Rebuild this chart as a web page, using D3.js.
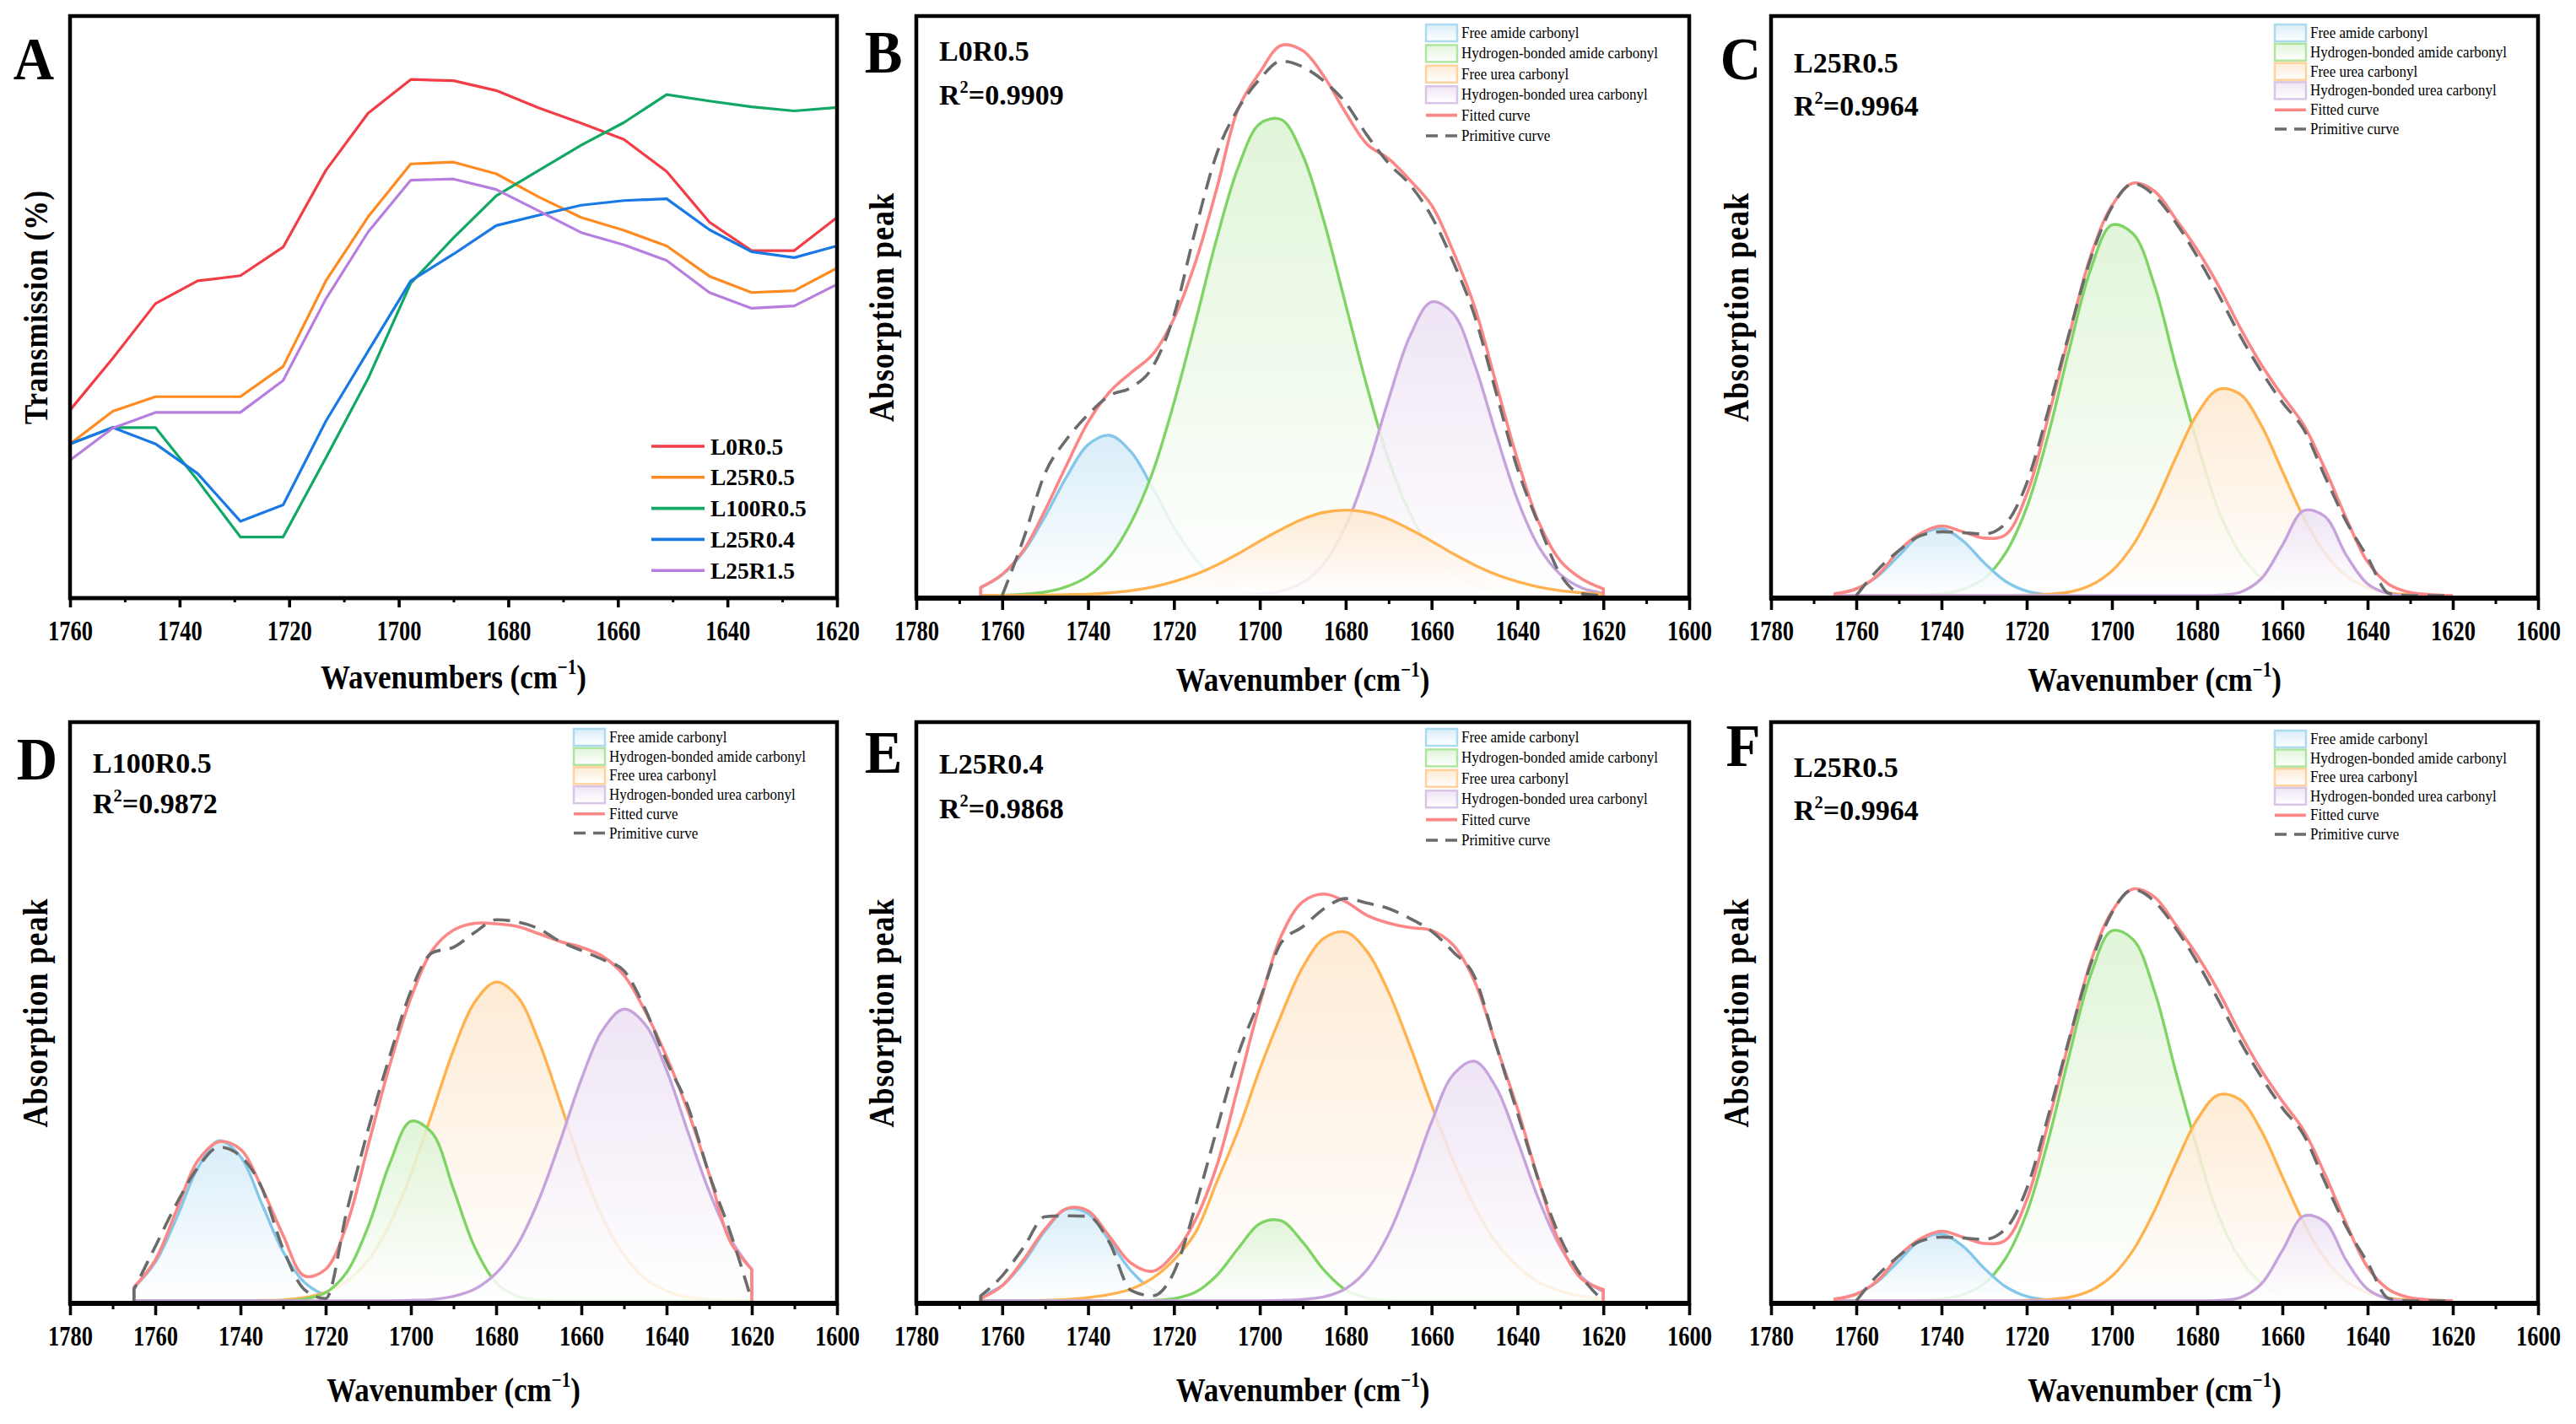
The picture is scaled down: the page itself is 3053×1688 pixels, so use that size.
<!DOCTYPE html>
<html>
<head>
<meta charset="utf-8">
<title>FTIR carbonyl region and peak fitting</title>
<script src="https://cdn.jsdelivr.net/npm/d3@7/dist/d3.min.js"></script>
<style>
html,body{margin:0;padding:0;background:#fff;}
svg{display:block;}
</style>
</head>
<body>
<svg id="chart" width="3053" height="1688" xmlns="http://www.w3.org/2000/svg"></svg>
<script>
// ================= DATA =================
// Panel A : transmission spectra (arbitrary 0-100 scale)
const transWavenumbers = [1760,1752.2,1744.4,1736.7,1728.9,1721.1,1713.3,1705.6,1697.8,1690,1682.2,1674.4,1666.7,1658.9,1651.1,1643.3,1635.6,1627.8,1620];
const transSeriesNames = ["L0R0.5","L25R0.5","L100R0.5","L25R0.4","L25R1.5"];
const transL0R05   = [32.3,41.2,50.6,54.5,55.4,60.3,73.5,83.3,89.1,88.9,87.2,84.2,81.6,78.8,73.3,64.6,59.7,59.7,65.4];
const transL25R05  = [26.5,32.1,34.6,34.6,34.6,39.8,54.5,65.5,74.6,74.9,72.9,68.9,65.4,63.2,60.5,55.3,52.5,52.8,56.7];
const transL100R05 = [26.5,29.3,29.3,20.2,10.5,10.5,24.1,37.7,54.1,61.9,69.1,73.5,77.8,81.7,86.5,85.4,84.4,83.7,84.3];
const transL25R04  = [26.5,29.3,26.5,21.4,13.2,16.0,30.4,42.4,54.5,59.1,64.0,65.8,67.5,68.3,68.6,63.3,59.5,58.5,60.5];
const transL25R15  = [23.7,29.2,31.9,31.9,31.9,37.4,51.4,62.9,71.8,72.0,70.2,66.5,62.8,60.7,58.0,52.5,49.8,50.2,53.9];
const transTicksMajor = [1760,1740,1720,1700,1680,1660,1640,1620];
const transTicksMinor = [1750,1730,1710,1690,1670,1650,1630];

// Panels B-F : peak fitting (absorbance, arbitrary units)
const fitWavenumbers = [1765,1760,1755,1750,1745,1740,1735,1730,1725,1720,1715,1710,1705,1700,1695,1690,1685,1680,1675,1670,1665,1660,1655,1650,1645,1640,1635,1630,1625,1620];
const componentNames = ["Free amide carbonyl","Hydrogen-bonded amide carbonyl","Free urea carbonyl","Hydrogen-bonded urea carbonyl"];
const fitLineNames = ["Fitted curve","Primitive curve"];
const fitTicksMajor = [1780,1760,1740,1720,1700,1680,1660,1640,1620,1600];
const fitTicksMinor = [1770,1750,1730,1710,1690,1670,1650,1630,1610];

// L0R0.5
const l0r05FreeAmide = [18,46,98,176,264,335,356,319,240,152,81,36,13,4,1,0,0,0,0,0,0,0,0,0,0,0,0,0,0,0];
const l0r05HbAmide   = [0,1,3,8,20,43,86,162,273,428,607,794,952,1048,1057,978,829,646,463,301,182,99,50,24,10,4,1,0,0,0];
const l0r05FreeUrea  = [0,0,0,1,2,3,6,11,19,31,47,68,93,121,147,170,185,190,185,170,147,121,93,68,47,31,19,11,6,3];
const l0r05HbUrea    = [0,0,0,0,0,0,0,0,0,0,0,0,1,3,10,29,72,154,281,436,577,652,627,514,359,213,108,47,17,5];
const l0r05Fitted    = [18,47,101,190,290,385,452,495,535,615,740,905,1082,1162,1222,1210,1152,1072,1002,970,922,867,765,642,472,302,162,77,37,15];
const l0r05Primitive = [null,0,127,272,347,402,444,462,507,622,812,982,1082,1147,1187,1174,1142,1094,1022,960,912,842,742,622,452,282,157,47,4,0];

// L25R0.5
const l25r05FreeAmide = [4,15,43,89,135,149,122,73,32,10,2,0,0,0,0,0,0,0,0,0,0,0,0,0,0,0,0,0,0,0];
const l25r05HbAmide   = [0,0,0,0,1,4,14,38,94,196,356,548,726,825,805,690,510,340,190,95,40,14,4,1,0,0,0,0,0,0];
const l25r05FreeUrea  = [0,0,0,0,0,0,0,0,0,1,3,8,23,55,113,201,307,404,459,449,380,277,174,94,44,18,6,2,1,0];
const l25r05HbUrea    = [0,0,0,0,0,0,0,0,0,0,0,0,0,0,0,0,0,0,1,7,37,112,189,176,90,26,4,0,0,0];
const l25r05Fitted    = [4,15,45,100,138,155,142,128,135,225,395,580,755,868,918,900,838,770,690,598,515,445,380,282,172,75,25,7,2,0];
const l25r05Primitive = [null,0,57,100,133,142,140,137,160,250,410,585,750,865,917,890,830,755,670,580,500,430,370,265,165,85,5,0,0,0];

// L100R0.5
const l100r05FreeAmide = [29,85,183,294,354,319,215,109,41,12,2,0,0,0,0,0,0,0,0,0,0,0,0,0,0,0,0,0,0,0];
const l100r05HbAmide   = [0,0,0,0,0,0,0,0,4,18,64,165,303,397,371,247,118,40,10,2,0,0,0,0,0,0,0,0,0,0];
const l100r05FreeUrea  = [0,0,0,0,0,0,1,2,7,19,44,90,169,280,416,555,661,705,673,574,439,300,183,101,49,22,8,3,1,0];
const l100r05HbUrea    = [0,0,0,0,0,0,0,0,0,0,0,0,0,1,3,10,26,61,124,223,352,490,599,645,611,510,374,242,137,69];
const l100r05Fitted    = [30,90,200,310,352,335,250,145,55,70,170,345,520,670,775,820,835,834,828,812,795,782,762,720,640,540,420,280,130,70];
const l100r05Primitive = [25,120,215,295,340,320,250,115,25,5,200,380,540,685,770,782,815,843,838,823,795,775,755,730,645,530,430,280,150,0];

// L25R0.4
const l25r04FreeAmide = [10,34,85,154,202,192,132,66,24,6,1,0,0,0,0,0,0,0,0,0,0,0,0,0,0,0,0,0,0,0];
const l25r04HbAmide   = [0,0,0,0,0,0,0,0,1,5,19,56,116,170,176,129,67,24,6,1,0,0,0,0,0,0,0,0,0,0];
const l25r04FreeUrea  = [0,0,0,1,3,7,14,26,50,90,150,262,376,510,629,734,798,811,768,679,560,431,309,207,129,76,41,21,10,4];
const l25r04HbUrea    = [0,0,0,0,0,0,0,0,0,0,0,0,0,0,1,3,9,27,69,147,262,393,497,527,470,352,222,118,52,20];
const l25r04Fitted    = [5,33,91,158,203,198,141,83,65,103,178,298,473,653,803,878,895,878,848,831,821,815,783,703,563,423,263,123,48,25];
const l25r04Primitive = [11,55,118,185,187,186,128,23,11,63,208,378,543,663,788,823,863,885,875,863,841,813,768,713,563,413,263,138,53,0];

const sampleNames = ["L0R0.5","L25R0.5","L100R0.5","L25R0.4"];
const rSquared    = ["0.9909","0.9964","0.9872","0.9868"];

// ================= TABLES BUILT FROM DATA =================
const transSeries = [transL0R05,transL25R05,transL100R05,transL25R04,transL25R15];
const fitSamples = [
  {name:sampleNames[0], r2:rSquared[0], comps:[l0r05FreeAmide,l0r05HbAmide,l0r05FreeUrea,l0r05HbUrea], fitted:l0r05Fitted, primitive:l0r05Primitive},
  {name:sampleNames[1], r2:rSquared[1], comps:[l25r05FreeAmide,l25r05HbAmide,l25r05FreeUrea,l25r05HbUrea], fitted:l25r05Fitted, primitive:l25r05Primitive},
  {name:sampleNames[2], r2:rSquared[2], comps:[l100r05FreeAmide,l100r05HbAmide,l100r05FreeUrea,l100r05HbUrea], fitted:l100r05Fitted, primitive:l100r05Primitive},
  {name:sampleNames[3], r2:rSquared[3], comps:[l25r04FreeAmide,l25r04HbAmide,l25r04FreeUrea,l25r04HbUrea], fitted:l25r04Fitted, primitive:l25r04Primitive}
];

// ================= STYLE / LAYOUT =================
const FONT = "'Liberation Serif','Times New Roman',Times,serif";
const transColors = ["#f23c46","#ff8a1f","#10a864","#1878e4","#b77ee0"];
const compLine   = ["#84c7e8","#80d465","#ffb24e","#c7a3dc"];
const compTint   = ["#d2eaf7","#dbf3d2","#fde7cd","#ece0f3"];
const compBorder = ["#acdaf0","#b0e5a0","#ffd29c","#dac5e7"];
const fittedColor = "#fb8787";
const primColor = "#6b6b6b";

const layout = {
  A:{x0:83,  x1:992,  y0:19,  y1:709,  letter:[-43,75]},
  B:{x0:1086,x1:2002, y0:19,  y1:709,  letter:[-39,67], lab:[53,105], leg:[20,24.4], order:[0,1,3,2], sample:0, ymax:1287, tt:110},
  C:{x0:2099,x1:3008, y0:19,  y1:709,  letter:[-36,75], lab:[67,118], leg:[20,22.8], order:[1,0,2,3], sample:1, ymax:1290, tt:110},
  D:{x0:83,  x1:992,  y0:856, y1:1545, letter:[-39,68], lab:[60,108], leg:[18,22.7], order:[0,2,1,3], sample:2, ymax:1280, tt:116},
  E:{x0:1086,x1:2002, y0:856, y1:1545, letter:[-39,60], lab:[61,114], leg:[18,24.4], order:[0,2,1,3], sample:3, ymax:1273, tt:116},
  F:{x0:2099,x1:3008, y0:856, y1:1545, letter:[-33,52], lab:[65,116], leg:[20,22.6], order:[1,0,2,3], sample:1, ymax:1290, tt:116}
};

const svg = d3.select("#chart");
const defs = svg.append("defs");
compTint.forEach((c,i)=>{
  const lg = defs.append("linearGradient").attr("id","cg"+i)
    .attr("x1",0).attr("y1",0).attr("x2",0).attr("y2",1);
  lg.append("stop").attr("offset","0").attr("stop-color",c).attr("stop-opacity",0.85);
  lg.append("stop").attr("offset","1").attr("stop-color","#ffffff").attr("stop-opacity",0.85);
});

function addText(parent, x, y, o){
  let tr = `translate(${x},${y})`;
  if (o.rotate) tr += ` rotate(${o.rotate})`;
  if (o.sy) tr += ` scale(1,${o.sy})`;
  const t = parent.append("text").attr("transform",tr)
    .attr("font-family",FONT).attr("font-size",o.size)
    .attr("font-weight",o.bold?"bold":"normal")
    .attr("text-anchor",o.anchor||"start").attr("fill","#000");
  if (o.ls) t.attr("letter-spacing",o.ls);
  return t;
}
function supText(t, base, sup, after, size){
  t.append("tspan").text(base);
  t.append("tspan").attr("font-size",size*0.6).attr("dy",-size*0.42).text(sup);
  t.append("tspan").attr("dy",size*0.42).text(after);
}
function edgePath(pts, x, y, curve){
  const def = pts.filter(p=>p[1]!=null);
  const s = d3.line().x(d=>x(d[0])).y(d=>y(d[1])).curve(curve)(def);
  const f = def[0], l = def[def.length-1];
  return `M${x(f[0])},${y(0)}L` + s.slice(1) + `L${x(l[0])},${y(0)}`;
}
function drawAxis(g, P, x, major, minor, majorLen, minorLen, frameW, bottomW){
  g.append("rect").attr("x",P.x0).attr("y",P.y0).attr("width",P.x1-P.x0).attr("height",P.y1-P.y0)
    .attr("fill","none").attr("stroke","#000").attr("stroke-width",frameW);
  const ax = g.append("g").attr("transform",`translate(0,${P.y1})`);
  ax.append("g").call(d3.axisBottom(x).tickValues(minor).tickSize(minorLen).tickFormat(""))
    .call(s=>s.select(".domain").remove())
    .call(s=>s.selectAll(".tick line").attr("stroke","#000").attr("stroke-width",3));
  const mj = ax.append("g").call(d3.axisBottom(x).tickValues(major).tickSize(majorLen).tickFormat(d3.format("d")))
    .call(s=>s.select(".domain").remove());
  mj.selectAll(".tick line").attr("stroke","#000").attr("stroke-width",3.6);
  mj.selectAll(".tick text").attr("y",null).attr("dy",null)
    .attr("transform","translate(0,50) scale(1,1.25)")
    .attr("font-family",FONT).attr("font-size",26.5).attr("font-weight","bold").attr("fill","#000");
  mj.attr("font-size",null).attr("font-family",null);
  g.append("line").attr("x1",P.x0-2).attr("x2",P.x1+2).attr("y1",P.y1).attr("y2",P.y1)
    .attr("stroke","#000").attr("stroke-width",bottomW);
}

// ================= PANEL A =================
(function(){
  const P = layout.A;
  const g = svg.append("g");
  const x = d3.scaleLinear().domain([1760,1620]).range([P.x0,P.x1]);
  const y = d3.scaleLinear().domain([0,100]).range([P.y1,P.y0]);
  const line = d3.line().x((d,i)=>x(transWavenumbers[i])).y(d=>y(d));
  transSeries.forEach((s,k)=>{
    g.append("path").attr("d",line(s)).attr("fill","none")
      .attr("stroke",transColors[k]).attr("stroke-width",3.2).attr("stroke-linejoin","round");
  });
  drawAxis(g,P,x,transTicksMajor,transTicksMinor,11,5,4.5,4.5);
  // legend
  transSeriesNames.forEach((n,i)=>{
    const cy = P.y0 + 510 + i*36.8;
    g.append("line").attr("x1",P.x1-220).attr("x2",P.x1-157).attr("y1",cy).attr("y2",cy)
      .attr("stroke",transColors[i]).attr("stroke-width",3.6);
    addText(g,P.x1-150,cy+9.5,{size:27.5,bold:true}).text(n);
  });
  // titles
  const tx = addText(g,(P.x0+P.x1)/2,P.y1+107,{size:35,bold:true,anchor:"middle",sy:1.15});
  supText(tx,"Wavenumbers (cm","\u22121",")",35);
  addText(g,P.x0-27,(P.y0+P.y1)/2,{size:35,bold:true,anchor:"middle",rotate:-90,sy:1.15,ls:0.7}).text("Transmission (%)");
  addText(g,P.x0+P.letter[0],P.y0+P.letter[1],{size:67,bold:true,anchor:"middle",sy:1.08}).text("A");
})();

// ================= PANELS B-F =================
["B","C","D","E","F"].forEach(key=>{
  const P = layout[key];
  const S = fitSamples[P.sample];
  const g = svg.append("g");
  const x = d3.scaleLinear().domain([1780,1600]).range([P.x0,P.x1]);
  const y = d3.scaleLinear().domain([0,P.ymax]).range([P.y1-3,P.y0]);
  const smooth = d3.curveCatmullRom.alpha(0.5);
  const area = d3.area().x(d=>x(d[0])).y0(y(0)).y1(d=>y(d[1])).curve(smooth);
  P.order.forEach(ci=>{
    const pts = fitWavenumbers.map((w,i)=>[w,S.comps[ci][i]]);
    g.append("path").attr("d",area(pts)).attr("fill",`url(#cg${ci})`);
    g.append("path").attr("d",edgePath(pts,x,y,smooth)).attr("fill","none")
      .attr("stroke",compLine[ci]).attr("stroke-width",3.4).attr("stroke-linejoin","round");
  });
  const fitPts = fitWavenumbers.map((w,i)=>[w,S.fitted[i]]);
  g.append("path").attr("d",edgePath(fitPts,x,y,smooth)).attr("fill","none")
    .attr("stroke",fittedColor).attr("stroke-width",3.6).attr("stroke-linejoin","round");
  const primPts = fitWavenumbers.map((w,i)=>[w,S.primitive[i]]);
  g.append("path").attr("d",edgePath(primPts,x,y,d3.curveMonotoneX)).attr("fill","none")
    .attr("stroke",primColor).attr("stroke-width",3.6).attr("stroke-dasharray","20,11");

  drawAxis(g,P,x,fitTicksMajor,fitTicksMinor,14,7,4.5,6);

  // legend
  const tx0 = P.x1-270, sx0 = tx0-42, sw = 37, sh = 20;
  const labels = componentNames.concat(fitLineNames);
  labels.forEach((n,i)=>{
    const cy = P.y0 + P.leg[0] + i*P.leg[1];
    if (i<4){
      g.append("rect").attr("x",sx0).attr("y",cy-sh/2).attr("width",sw).attr("height",sh)
        .attr("fill",`url(#cg${i})`).attr("stroke",compBorder[i]).attr("stroke-width",2.5);
    } else if (i===4){
      g.append("line").attr("x1",sx0).attr("x2",sx0+sw).attr("y1",cy).attr("y2",cy)
        .attr("stroke",fittedColor).attr("stroke-width",3.6);
    } else {
      g.append("line").attr("x1",sx0).attr("x2",sx0+sw).attr("y1",cy).attr("y2",cy)
        .attr("stroke",primColor).attr("stroke-width",3.6).attr("stroke-dasharray","14,9");
    }
    addText(g,tx0,cy+6,{size:17,sy:1.12}).text(n);
  });

  // sample label and R2
  addText(g,P.x0+27,P.y0+P.lab[0],{size:34,bold:true}).text(S.name);
  const r = addText(g,P.x0+27,P.y0+P.lab[1],{size:34,bold:true});
  supText(r,"R","2","="+S.r2,34);

  // titles
  const tt = addText(g,(P.x0+P.x1)/2,P.y1+P.tt,{size:35,bold:true,anchor:"middle",sy:1.15});
  supText(tt,"Wavenumber (cm","\u22121",")",35);
  addText(g,P.x0-27,(P.y0+P.y1)/2,{size:36,bold:true,anchor:"middle",rotate:-90,sy:1.15,ls:1}).text("Absorption peak");
  addText(g,P.x0+P.letter[0],P.y0+P.letter[1],{size:67,bold:true,anchor:"middle",sy:1.08}).text(key);
});
</script>
</body>
</html>
